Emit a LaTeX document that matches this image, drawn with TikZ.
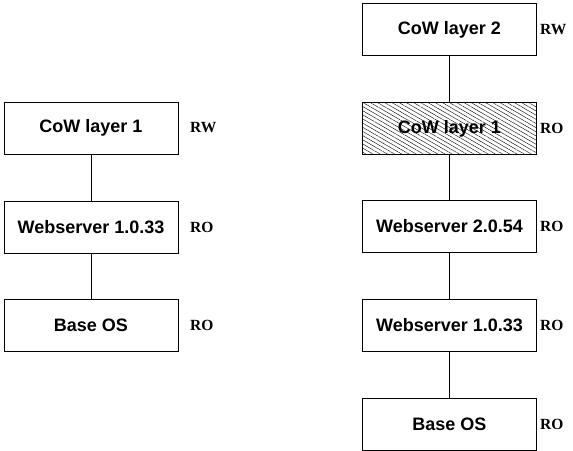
\documentclass[tikz,border=0pt]{standalone}
\usepackage{fontspec}
\setmainfont{Liberation Serif}
\setsansfont{Liberation Sans}
\usetikzlibrary{patterns.meta,positioning}

\begin{document}
\begin{tikzpicture}[x=1pt, y=-1pt,
  layer/.style={draw, line width=0.7pt, minimum width=174pt, minimum height=52pt,
    inner sep=0pt, font=\sffamily\bfseries\fontsize{18}{20}\selectfont},
  hatched/.style={pattern={Lines[angle=-30, distance=3.6pt, line width=0.4pt]}},
  mode/.style={anchor=west, inner sep=0pt, font=\bfseries\fontsize{15.5}{17}\selectfont},
  link/.style={line width=0.6pt}]
\useasboundingbox (0,0) rectangle (573,450);
% left stack
\node[layer] (lcow1) at (91,128) {CoW layer 1};
\node[layer] (lweb1) at (91,227) {Webserver 1.0.33};
\node[layer] (lbase) at (91,325) {Base OS};
\node[mode] (lm1) at (190,128) {RW};
\node[mode] (lm2) at (190,227) {RO};
\node[mode] (lm3) at (190,325) {RO};
\draw[link] (lcow1) -- (lweb1);
\draw[link] (lweb1) -- (lbase);
% right stack
\node[layer] (rcow2) at (449.5,29.5) {CoW layer 2};
\node[layer, hatched] (rcow1) at (449.5,128.5) {CoW layer 1};
\node[layer] (rweb2) at (449.5,226.5) {Webserver 2.0.54};
\node[layer] (rweb1) at (449.5,325) {Webserver 1.0.33};
\node[layer] (rbase) at (449.5,424) {Base OS};
\node[mode] (rm1) at (540,29.5) {RW};
\node[mode] (rm2) at (540,128.5) {RO};
\node[mode] (rm3) at (540,226.5) {RO};
\node[mode] (rm4) at (540,325) {RO};
\node[mode] (rm5) at (540,424) {RO};
\draw[link] (rcow2) -- (rcow1);
\draw[link] (rcow1) -- (rweb2);
\draw[link] (rweb2) -- (rweb1);
\draw[link] (rweb1) -- (rbase);
\end{tikzpicture}
\end{document}
